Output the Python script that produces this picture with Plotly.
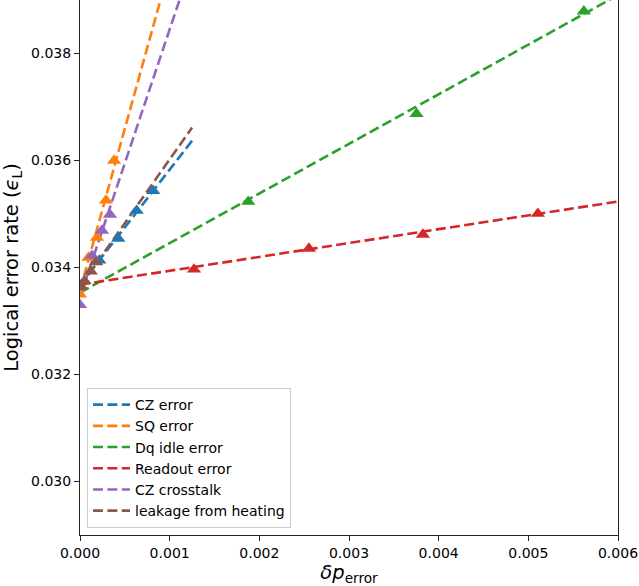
import plotly.graph_objects as go

# Measured logical error rate vs. added error strength, one series per error source
names = ["CZ error", "SQ error", "Dq idle error", "Readout error", "CZ crosstalk", "leakage from heating"]
colors = ["#1f77b4", "#ff7f0e", "#2ca02c", "#d62728", "#9467bd", "#8c564b"]

cz_x = [0.0, 0.000215, 0.000427, 0.000632, 0.000817]
cz_y = [0.03367, 0.034131, 0.034541, 0.035063, 0.035431]

sq_x = [0.0, 0.000095, 0.00019, 0.00029, 0.00038]
sq_y = [0.03350, 0.034187, 0.03456, 0.035254, 0.036000]

dq_x = [0.0, 0.001876, 0.003753, 0.005619]
dq_y = [0.03365, 0.035231, 0.036873, 0.038789]

ro_x = [0.0, 0.001271, 0.002553, 0.003824, 0.005106]
ro_y = [0.03366, 0.033963, 0.034354, 0.034616, 0.035007]

xt_x = [0.0, 0.000134, 0.000245, 0.000334]
xt_y = [0.03330, 0.034220, 0.034690, 0.034990]

lk_x = [0.0, 0.00005, 0.00012, 0.00018]
lk_y = [0.03364, 0.03375, 0.03393, 0.03410]

# Linear fits: slope, intercept and the x where each fit line stops
fit_slope = [2.16, 6.05, 0.927, 0.259, 5.0, 2.38]
fit_icpt = [0.03367, 0.03357, 0.03353, 0.03368, 0.03345, 0.03364]
fit_xend = [0.00125, 0.00125, 0.0065, 0.0065, 0.00125, 0.00125]

series_x = [cz_x, sq_x, dq_x, ro_x, xt_x, lk_x]
series_y = [cz_y, sq_y, dq_y, ro_y, xt_y, lk_y]

fig = go.Figure()
for i, name in enumerate(names):
    xs = [0.0, fit_xend[i]]
    ys = [fit_icpt[i] + fit_slope[i] * x for x in xs]
    fig.add_trace(go.Scatter(
        x=xs, y=ys, mode="lines", name=name,
        line=dict(color=colors[i], width=2.6, dash="10px,4.4px"),
    ))
for i, name in enumerate(names):
    fig.add_trace(go.Scatter(
        x=series_x[i], y=series_y[i], mode="markers", showlegend=False,
        marker=dict(symbol="triangle-up", size=12.5, color=colors[i]),
        cliponaxis=True,
    ))

axis_font = dict(family="DejaVu Sans", size=14, color="black")
spine = "#222222"
fig.update_layout(
    width=639, height=586,
    margin=dict(l=80, r=21, t=0, b=51),
    plot_bgcolor="white", paper_bgcolor="white",
    font=dict(family="DejaVu Sans", color="black"),
    showlegend=True,
    legend=dict(
        x=0.013, y=0.013, xanchor="left", yanchor="bottom",
        bgcolor="rgba(255,255,255,0.8)", bordercolor="#cccccc", borderwidth=1,
        font=dict(family="DejaVu Sans", size=14, color="black"),
        tracegroupgap=0, itemwidth=37,
    ),
    xaxis=dict(
        range=[0, 0.006], tickvals=[0, 0.001, 0.002, 0.003, 0.004, 0.005, 0.006],
        tickformat=".3f", ticks="outside", ticklen=5, tickwidth=1.1, tickcolor=spine,
        showline=True, linecolor=spine, linewidth=1.1, mirror=False,
        showgrid=False, zeroline=False, tickfont=axis_font,
        title=dict(text="<i>δp</i><sub>error</sub>", font=dict(family="DejaVu Sans", size=19.5), standoff=4),
    ),
    yaxis=dict(
        range=[0.029, 0.039], tickvals=[0.030, 0.032, 0.034, 0.036, 0.038],
        tickformat=".3f", ticks="outside", ticklen=5, tickwidth=1.1, tickcolor=spine,
        showline=True, linecolor=spine, linewidth=1.1, mirror=True,
        showgrid=False, zeroline=False, tickfont=axis_font,
        title=dict(text="Logical error rate (<i>ϵ</i><sub>L</sub>)", font=dict(family="DejaVu Sans", size=19.5), standoff=8),
    ),
)

fig.write_html("out.html")
